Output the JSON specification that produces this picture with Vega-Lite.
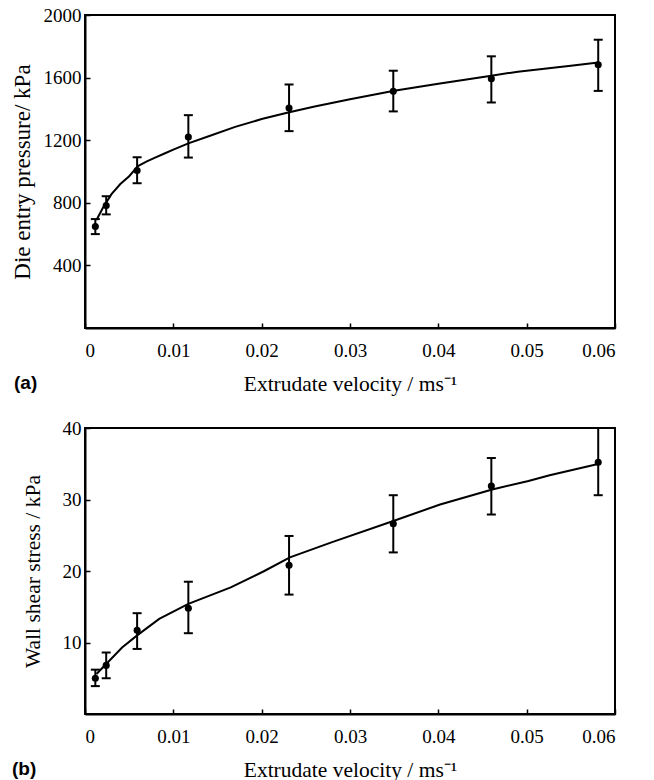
{
  "$schema": "https://vega.github.io/schema/vega-lite/v6.json",
  "padding": {"left": 10, "top": 5, "right": 5, "bottom": 0},
  "spacing": 22,
  "datasets": {
    "a_pts": [
      {"v": 0.00117, "y": 648, "lo": 600, "hi": 696},
      {"v": 0.0024, "y": 782, "lo": 726, "hi": 842},
      {"v": 0.0059, "y": 1006, "lo": 925, "hi": 1091},
      {"v": 0.0117, "y": 1221, "lo": 1089, "hi": 1360},
      {"v": 0.0231, "y": 1405, "lo": 1258, "hi": 1556},
      {"v": 0.0349, "y": 1512, "lo": 1384, "hi": 1644},
      {"v": 0.046, "y": 1592, "lo": 1441, "hi": 1736},
      {"v": 0.0581, "y": 1682, "lo": 1515, "hi": 1842}
    ],
    "a_fit": [
      {"v": 0.0013, "y": 690},
      {"v": 0.002, "y": 765},
      {"v": 0.003, "y": 855},
      {"v": 0.004, "y": 920},
      {"v": 0.005, "y": 970},
      {"v": 0.006, "y": 1035},
      {"v": 0.007, "y": 1065},
      {"v": 0.008, "y": 1090},
      {"v": 0.009, "y": 1115},
      {"v": 0.01, "y": 1140},
      {"v": 0.0117, "y": 1180},
      {"v": 0.014, "y": 1225},
      {"v": 0.017, "y": 1285},
      {"v": 0.02, "y": 1335},
      {"v": 0.023, "y": 1377},
      {"v": 0.026, "y": 1415},
      {"v": 0.03, "y": 1462},
      {"v": 0.035, "y": 1516},
      {"v": 0.04, "y": 1560},
      {"v": 0.046, "y": 1612},
      {"v": 0.049, "y": 1638},
      {"v": 0.052, "y": 1656},
      {"v": 0.055, "y": 1676},
      {"v": 0.0581, "y": 1697}
    ],
    "b_pts": [
      {"v": 0.00117, "y": 5.0, "lo": 3.9, "hi": 6.2},
      {"v": 0.0024, "y": 6.8, "lo": 5.0, "hi": 8.6},
      {"v": 0.0059, "y": 11.7, "lo": 9.1, "hi": 14.1},
      {"v": 0.0117, "y": 14.8, "lo": 11.3, "hi": 18.5},
      {"v": 0.0231, "y": 20.8, "lo": 16.7, "hi": 24.9},
      {"v": 0.0349, "y": 26.6, "lo": 22.6, "hi": 30.6},
      {"v": 0.046, "y": 31.9, "lo": 27.9, "hi": 35.8},
      {"v": 0.0581, "y": 35.2, "lo": 30.6, "hi": 40.0}
    ],
    "b_fit": [
      {"v": 0.0013, "y": 5.6},
      {"v": 0.0024, "y": 7.0},
      {"v": 0.0042, "y": 9.3},
      {"v": 0.0059, "y": 11.0},
      {"v": 0.0084, "y": 13.3},
      {"v": 0.0117, "y": 15.4},
      {"v": 0.0165, "y": 17.7},
      {"v": 0.0203, "y": 20.0},
      {"v": 0.0232, "y": 21.9},
      {"v": 0.0279, "y": 24.0},
      {"v": 0.0349, "y": 27.0},
      {"v": 0.0402, "y": 29.3},
      {"v": 0.0461, "y": 31.4},
      {"v": 0.0502, "y": 32.6},
      {"v": 0.0526, "y": 33.4},
      {"v": 0.0582, "y": 35.0}
    ]
  },
  "config": {
    "view": {"stroke": "black", "strokeWidth": 2},
    "axis": {
      "grid": false,
      "domainColor": "black",
      "domainWidth": 2,
      "tickColor": "black",
      "tickWidth": 1.5,
      "tickSize": -5,
      "labelFont": "Liberation Serif",
      "labelFontSize": 19,
      "labelColor": "black",
      "titleFont": "Liberation Serif",
      "titleFontSize": 21.5,
      "titleFontWeight": "normal",
      "titleColor": "black"
    },
    "title": {
      "font": "Liberation Sans",
      "fontSize": 19,
      "fontWeight": "bold",
      "color": "black",
      "orient": "bottom",
      "anchor": "start",
      "frame": "bounds",
      "offset": 0
    }
  },
  "vconcat": [
    {
      "width": 530,
      "height": 313,
      "title": {"text": "(a)", "dy": -25, "dx": 3},
      "layer": [
        {
          "data": {"name": "a_fit"},
          "mark": {"type": "line", "color": "black", "strokeWidth": 2},
          "encoding": {
            "x": {"field": "v", "type": "quantitative", "scale": {"domain": [0, 0.06]},
              "axis": {"title": "Extrudate velocity / ms⁻¹", "values": [0, 0.01, 0.02, 0.03, 0.04, 0.05, 0.06], "format": "~g", "labelPadding": 18, "titlePadding": 13}},
            "y": {"field": "y", "type": "quantitative", "scale": {"domain": [0, 2000]},
              "axis": {"title": "Die entry pressure/ kPa", "titleFontSize": 23, "values": [400, 800, 1200, 1600, 2000], "format": "d", "labelPadding": 9, "titlePadding": 9}}
          }
        },
        {
          "data": {"name": "a_pts"},
          "mark": {"type": "rule", "color": "black", "strokeWidth": 2},
          "encoding": {
            "x": {"field": "v", "type": "quantitative"},
            "y": {"field": "lo", "type": "quantitative"},
            "y2": {"field": "hi"}
          }
        },
        {
          "data": {"name": "a_pts"},
          "mark": {"type": "tick", "orient": "horizontal", "color": "black", "size": 9, "thickness": 2, "opacity": 1},
          "encoding": {
            "x": {"field": "v", "type": "quantitative"},
            "y": {"field": "lo", "type": "quantitative"}
          }
        },
        {
          "data": {"name": "a_pts"},
          "mark": {"type": "tick", "orient": "horizontal", "color": "black", "size": 9, "thickness": 2, "opacity": 1},
          "encoding": {
            "x": {"field": "v", "type": "quantitative"},
            "y": {"field": "hi", "type": "quantitative"}
          }
        },
        {
          "data": {"name": "a_pts"},
          "mark": {"type": "point", "filled": true, "color": "black", "size": 50, "opacity": 1},
          "encoding": {
            "x": {"field": "v", "type": "quantitative"},
            "y": {"field": "y", "type": "quantitative"}
          }
        }
      ]
    },
    {
      "width": 530,
      "height": 286,
      "title": {"text": "(b)", "dy": -25, "dx": -10},
      "layer": [
        {
          "data": {"name": "b_fit"},
          "mark": {"type": "line", "color": "black", "strokeWidth": 2},
          "encoding": {
            "x": {"field": "v", "type": "quantitative", "scale": {"domain": [0, 0.06]},
              "axis": {"title": "Extrudate velocity / ms⁻¹", "values": [0, 0.01, 0.02, 0.03, 0.04, 0.05, 0.06], "format": "~g", "labelPadding": 18, "titlePadding": 13}},
            "y": {"field": "y", "type": "quantitative", "scale": {"domain": [0, 40]},
              "axis": {"title": "Wall shear stress / kPa", "values": [10, 20, 30, 40], "format": "d", "labelPadding": 9, "titlePadding": 18}}
          }
        },
        {
          "data": {"name": "b_pts"},
          "mark": {"type": "rule", "color": "black", "strokeWidth": 2},
          "encoding": {
            "x": {"field": "v", "type": "quantitative"},
            "y": {"field": "lo", "type": "quantitative"},
            "y2": {"field": "hi"}
          }
        },
        {
          "data": {"name": "b_pts"},
          "mark": {"type": "tick", "orient": "horizontal", "color": "black", "size": 9, "thickness": 2, "opacity": 1},
          "encoding": {
            "x": {"field": "v", "type": "quantitative"},
            "y": {"field": "lo", "type": "quantitative"}
          }
        },
        {
          "data": {"name": "b_pts"},
          "mark": {"type": "tick", "orient": "horizontal", "color": "black", "size": 9, "thickness": 2, "opacity": 1},
          "encoding": {
            "x": {"field": "v", "type": "quantitative"},
            "y": {"field": "hi", "type": "quantitative"}
          }
        },
        {
          "data": {"name": "b_pts"},
          "mark": {"type": "point", "filled": true, "color": "black", "size": 50, "opacity": 1},
          "encoding": {
            "x": {"field": "v", "type": "quantitative"},
            "y": {"field": "y", "type": "quantitative"}
          }
        }
      ]
    }
  ]
}
